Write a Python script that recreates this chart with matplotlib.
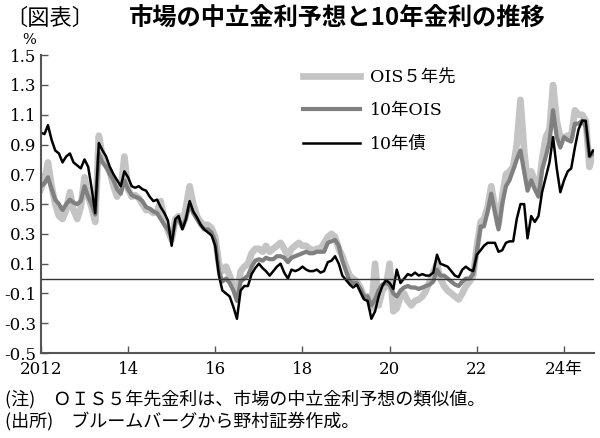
import matplotlib.pyplot as plt
import pandas as pd

# 月次データ (2012年1月〜2024年9月)
fechas = pd.date_range("2012-01-01", "2024-09-01", freq="MS")

ois5 = [
    0.60, 0.66, 0.78, 0.62, 0.50, 0.42, 0.40, 0.46, 0.58, 0.46, 0.40, 0.48,
    0.68, 0.55, 0.48, 0.38, 0.96, 0.82, 0.76, 0.72, 0.62, 0.55, 0.60, 0.82,
    0.60, 0.55, 0.56, 0.54, 0.50, 0.46, 0.46, 0.44, 0.45, 0.52, 0.40, 0.32,
    0.26, 0.40, 0.42, 0.36, 0.48, 0.62, 0.50, 0.42, 0.38, 0.36, 0.36, 0.34,
    0.28, 0.10, 0.05, 0.08, 0.02, -0.05, -0.10, 0.05, 0.08, 0.10, 0.17, 0.20,
    0.20, 0.18, 0.22, 0.18, 0.20, 0.22, 0.24, 0.20, 0.15, 0.20, 0.22, 0.24,
    0.22, 0.22, 0.20, 0.19, 0.20, 0.20, 0.24, 0.28, 0.30, 0.28, 0.20, 0.15,
    0.08, 0.02, 0.00, -0.02, -0.06, -0.12, -0.12, -0.20, 0.10, -0.18, -0.08, -0.05,
    0.10, -0.22, -0.20, -0.12, -0.10, -0.15, -0.18, -0.15, -0.14, -0.12, -0.08, -0.02,
    0.04, 0.10, 0.00, -0.05, -0.08, -0.10, -0.12, -0.14, -0.10, -0.05, -0.02, 0.02,
    0.22, 0.38, 0.40, 0.48, 0.62, 0.48, 0.36, 0.55, 0.70, 0.72, 0.75, 0.90,
    1.20, 0.86, 0.65, 0.72, 0.66, 0.59, 0.80, 0.95, 1.00, 1.30, 1.06, 0.95,
    0.95, 0.96, 0.95, 1.13, 1.10, 1.10, 1.06, 0.75, 0.84,
]

ois10 = [
    0.62, 0.64, 0.68, 0.60, 0.53, 0.50, 0.46, 0.50, 0.53, 0.51, 0.50, 0.52,
    0.62, 0.55, 0.50, 0.43, 0.84, 0.78, 0.75, 0.70, 0.66, 0.60, 0.57, 0.66,
    0.60, 0.56, 0.55, 0.54, 0.52, 0.48, 0.47, 0.45, 0.44, 0.40, 0.36, 0.33,
    0.27, 0.38, 0.40, 0.34, 0.40, 0.50, 0.44, 0.40, 0.36, 0.33, 0.33, 0.31,
    0.25, 0.05, -0.02, 0.00, -0.03, -0.08, -0.15, -0.02, 0.00, 0.02, 0.08, 0.12,
    0.13, 0.12, 0.14, 0.13, 0.13, 0.15, 0.15, 0.14, 0.11, 0.14, 0.15, 0.16,
    0.17, 0.18, 0.17, 0.17, 0.18, 0.18, 0.18, 0.24, 0.25, 0.26, 0.22, 0.12,
    0.05, -0.02, -0.03, -0.03, -0.07, -0.12, -0.12, -0.18, -0.14, -0.08, -0.04, -0.03,
    -0.04, -0.10, -0.12, -0.08, -0.06, -0.05, -0.06, -0.06, -0.07, -0.06, -0.05, -0.04,
    -0.02, 0.06, 0.02, 0.02, 0.00, -0.02, -0.04, -0.05, -0.02, 0.00, 0.00, 0.03,
    0.18, 0.35, 0.35, 0.45, 0.57, 0.45, 0.33, 0.50, 0.62, 0.66, 0.73, 0.80,
    0.86, 0.72, 0.59, 0.66, 0.60, 0.55, 0.73, 0.82, 0.92, 1.13, 0.95, 0.88,
    0.95, 0.93, 0.92, 1.04, 1.04, 1.06, 1.02, 0.82, 0.84,
]

jgb10 = [
    0.98, 0.97, 1.03, 0.93, 0.86, 0.84, 0.78, 0.82, 0.84, 0.78, 0.76, 0.74,
    0.80, 0.75, 0.61, 0.44, 0.91, 0.86, 0.82, 0.75, 0.70, 0.66, 0.62, 0.72,
    0.68, 0.62, 0.61, 0.62, 0.60, 0.59, 0.55, 0.52, 0.53, 0.48, 0.44, 0.39,
    0.22, 0.40, 0.42, 0.33, 0.40, 0.52, 0.45, 0.41, 0.36, 0.33, 0.31, 0.29,
    0.22, 0.02, -0.08, -0.10, -0.12, -0.19, -0.27, -0.08, -0.05, -0.05, 0.03, 0.07,
    0.10, 0.07, 0.05, 0.02, 0.05, 0.08, 0.10, 0.04, 0.00, 0.06, 0.05, 0.06,
    0.08, 0.06, 0.05, 0.05, 0.06, 0.04, 0.05, 0.11, 0.12, 0.15, 0.10, 0.02,
    -0.01, -0.04, -0.06, -0.04, -0.09, -0.14, -0.15, -0.27, -0.22, -0.12, -0.05, -0.01,
    -0.03, -0.07, 0.06, -0.03, 0.00, 0.03, 0.02, 0.04, 0.02, 0.03, 0.02, 0.02,
    0.04, 0.16, 0.10, 0.09, 0.08, 0.05, 0.02, 0.01, 0.06, 0.08, 0.06, 0.05,
    0.16, 0.19, 0.22, 0.24, 0.24, 0.24, 0.18, 0.19, 0.24, 0.25, 0.25, 0.40,
    0.50, 0.50, 0.27, 0.42, 0.38, 0.42, 0.58, 0.68, 0.78, 0.95, 0.74, 0.58,
    0.66, 0.72, 0.74, 0.88, 1.00, 1.06, 1.06, 0.82, 0.86,
]

anios = [2012, 2014, 2016, 2018, 2020, 2022, 2024]
etiquetas_x = ["2012", "14", "16", "18", "20", "22", "24年"]
ticks_y = [-0.5, -0.3, -0.1, 0.1, 0.3, 0.5, 0.7, 0.9, 1.1, 1.3, 1.5]

plt.rcParams["font.family"] = ["DejaVu Serif", "Noto Sans CJK JP"]

fig = plt.figure(figsize=(6, 4.38), dpi=100)
ax = fig.add_axes([0.068, 0.194, 0.922, 0.68])

ax.plot(fechas, ois5, color="#c4c4c4", lw=4.8, label="OIS５年先")
ax.plot(fechas, ois10, color="#808080", lw=3, label="10年OIS")
ax.plot(fechas, jgb10, color="#000000", lw=1.8, label="10年債")
ax.axhline(0, color="#333333", lw=1)

ax.set_xlim(pd.Timestamp("2012-01-01"), pd.Timestamp("2024-09-08"))
ax.set_ylim(-0.5, 1.5)
ax.set_xticks([pd.Timestamp(f"{a}-01-01") for a in anios])
ax.set_xticklabels(etiquetas_x)
ax.set_yticks(ticks_y)
ax.set_yticklabels([f"{v:.1f}" for v in ticks_y])

for lado in ["top", "right"]:
    ax.spines[lado].set_visible(False)
for lado in ["left", "bottom"]:
    ax.spines[lado].set_color("#555555")
    ax.spines[lado].set_linewidth(1.5)
ax.tick_params(direction="in", length=5, width=1, colors="#555555", labelcolor="black", labelsize=12)
ax.tick_params(axis="y", pad=3)
ax.tick_params(axis="x", pad=6)

ax.legend(loc="upper left", bbox_to_anchor=(0.445, 1.007), frameon=False, fontsize=12.5,
          handlelength=3.3, handletextpad=0.6, labelspacing=0.95)

fig.text(0.048, 1 - 40 / 438, "%", ha="center", va="center", fontsize=10.5)
fig.text(0.008, 0.958, "〔図表〕", fontsize=16, va="center", family="Noto Sans CJK JP")
fig.text(0.215, 0.958, "市場の中立金利予想と10年金利の推移", fontsize=17.5, va="center",
         family="Noto Sans CJK JP", fontweight="bold")
fig.text(0.008, 1 - 399 / 438, "(注)　ＯＩＳ５年先金利は、市場の中立金利予想の類似値。",
         fontsize=13, va="center", family="Noto Sans CJK JP")
fig.text(0.008, 1 - 422 / 438, "(出所)　ブルームバーグから野村証券作成。",
         fontsize=13, va="center", family="Noto Sans CJK JP")

plt.savefig("out.png", dpi=100)
